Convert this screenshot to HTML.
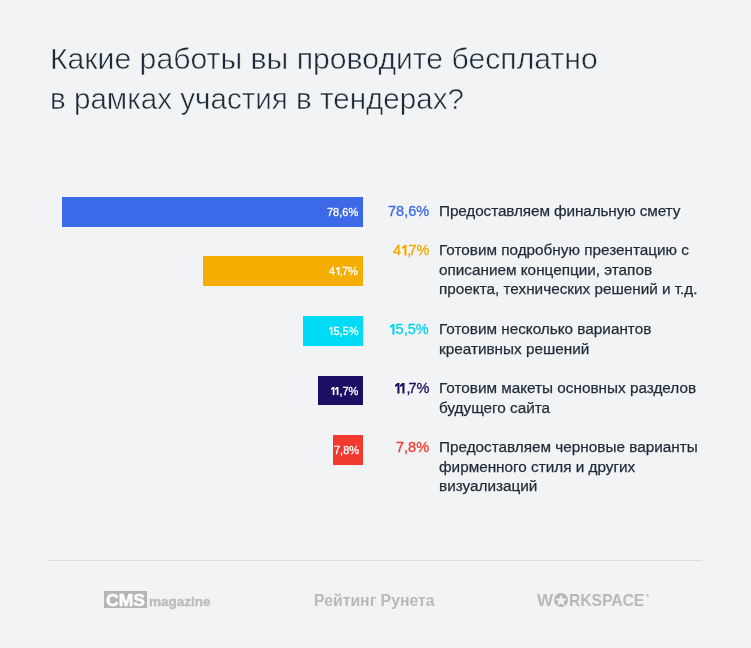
<!DOCTYPE html>
<html><head><meta charset="utf-8">
<style>
html,body{margin:0;padding:0;}
body{width:751px;height:648px;background:#f2f3f4;position:relative;overflow:hidden;font-family:"Liberation Sans",sans-serif;}
.t{position:absolute;white-space:nowrap;}
.t,.lab,.pct,.bl{will-change:transform;}
.title{color:#1d2a37;font-size:30px;line-height:40px;left:50px;-webkit-text-stroke:0.5px #f2f3f4;}
.bar{position:absolute;height:30px;}
.bl{position:absolute;right:5px;top:0;color:#fff;font-size:11px;line-height:30px;-webkit-text-stroke:0.3px #fff;}
.o1{display:inline-block;width:4.4px;height:10.5px;vertical-align:baseline;overflow:visible}
.o1s{display:inline-block;width:3.4px;height:8px;vertical-align:baseline;overflow:visible}
.pct{position:absolute;right:322px;font-size:14.5px;line-height:20px;font-weight:normal;-webkit-text-stroke:0.3px;text-align:right;}
.lab{position:absolute;left:439px;font-size:15.3px;line-height:19.7px;color:#1f2b38;white-space:nowrap;-webkit-text-stroke:0.25px #1f2b38;}
.hr{position:absolute;left:49px;top:560px;width:653px;height:1px;background:#dcdcdd;}
</style></head><body>
<div class="t title" style="top:39px;font-size:30.2px">Какие работы вы проводите бесплатно</div>
<div class="t title" style="top:78.5px;font-size:29.6px">в рамках участия в тендерах?</div>

<div class="bar" style="left:62px;top:197px;width:301px;background:#3c69e8"><span class="bl">78,6%</span></div>
<div class="bar" style="left:203px;top:256px;width:160px;background:#f5ad00"><span class="bl">4<span style="margin:0 0.8px 0 0.6px"><svg class="o1s" viewBox="0 0 4.4 10.5"><path fill="currentColor" d="M2.3 0H4.5V10.5H2.3V2.7L0 4.1V2Z"/></svg></span><span style="letter-spacing:-1px">,</span>7%</span></div>
<div class="bar" style="left:303px;top:316px;width:60px;background:#00dbf5"><span class="bl"><svg class="o1s" viewBox="0 0 4.4 10.5"><path fill="currentColor" d="M2.3 0H4.5V10.5H2.3V2.7L0 4.1V2Z"/></svg><span style="margin-left:1px"></span>5,5%</span></div>
<div class="bar" style="left:318px;top:376px;width:45px;height:29px;background:#1c0f63"><span class="bl"><svg class="o1s" viewBox="0 0 4.4 10.5"><path fill="currentColor" d="M2.3 0H4.5V10.5H2.3V2.7L0 4.1V2Z"/></svg><span style="margin:0 0.6px 0 1px"><svg class="o1s" viewBox="0 0 4.4 10.5"><path fill="currentColor" d="M2.3 0H4.5V10.5H2.3V2.7L0 4.1V2Z"/></svg></span>,7%</span></div>
<div class="bar" style="left:333px;top:435px;width:30px;background:#f33a2e"><span class="bl" style="right:auto;left:1px">7,8%</span></div>

<div class="pct" style="top:201px;color:#3c69e8">78,6%</div>
<div class="lab" style="top:201px;letter-spacing:-0.1px">Предоставляем финальную смету</div>

<div class="pct" style="top:240px;color:#f5a700">4<span style="margin:0 1.2px 0 0.6px"><svg class="o1" viewBox="0 0 4.4 10.5"><path fill="currentColor" d="M2.4 0H4.5V10.5H2.4V2.7L0 4.1V2Z"/></svg></span><span style="letter-spacing:-2.8px">,</span>7%</div>
<div class="lab" style="top:240px">Готовим подробную презентацию с<br>описанием концепции, этапов<br>проекта, технических решений и т.д.</div>

<div class="pct" style="top:319px;color:#00d5f3"><svg class="o1" viewBox="0 0 4.4 10.5"><path fill="currentColor" d="M2.4 0H4.5V10.5H2.4V2.7L0 4.1V2Z"/></svg><span style="margin-left:1.2px"></span>5,5%</div>
<div class="lab" style="top:319px">Готовим несколько вариантов<br>креативных решений</div>

<div class="pct" style="top:378px;color:#1c0f63"><svg class="o1" viewBox="0 0 4.4 10.5"><path fill="currentColor" d="M2.4 0H4.5V10.5H2.4V2.7L0 4.1V2Z"/></svg><span style="margin:0 2.1px 0 0.6px"><svg class="o1" viewBox="0 0 4.4 10.5"><path fill="currentColor" d="M2.4 0H4.5V10.5H2.4V2.7L0 4.1V2Z"/></svg></span><span style="letter-spacing:-2.1px">,</span>7%</div>
<div class="lab" style="top:378px">Готовим макеты основных разделов<br>будущего сайта</div>

<div class="pct" style="top:437px;color:#f33a2e">7,8%</div>
<div class="lab" style="top:437px">Предоставляем черновые варианты<br>фирменного стиля и других<br>визуализаций</div>

<div class="hr"></div>

<div style="position:absolute;left:104px;top:591px;width:43px;height:17px;background:#b5b5b5"></div>
<div class="t" style="left:106px;top:589px;font-size:16.5px;line-height:22px;font-weight:bold;color:#fff;-webkit-text-stroke:0.5px #fff;transform:scaleX(1.06);transform-origin:0 0">CMS</div>
<div class="t" style="left:149px;top:592.5px;font-size:13.5px;line-height:18px;font-weight:bold;color:#bdbdbd;-webkit-text-stroke:0.4px #bdbdbd">magazine</div>

<div class="t" style="left:313.8px;top:590.5px;font-size:15.8px;line-height:20px;font-weight:bold;color:#b9b9b9">Рейтинг Рунета</div>

<div class="t" style="left:537px;top:590px;font-size:17px;line-height:22px;font-weight:bold;color:#b8b8b8">W</div>
<svg style="position:absolute;left:554px;top:593.2px" width="14" height="14" viewBox="0 0 14 14"><path fill="#b8b8b8" fill-rule="evenodd" d="M7 0A7 7 0 1 1 7 14A7 7 0 1 1 7 0Z M7.00 1.50 L8.59 5.52 L12.90 5.78 L9.57 8.53 L10.64 12.72 L7.00 10.40 L3.36 12.72 L4.43 8.53 L1.10 5.78 L5.41 5.52Z"/></svg>
<div class="t" style="left:569px;top:590px;font-size:17px;line-height:22px;font-weight:bold;color:#b8b8b8;transform:scaleX(0.92);transform-origin:0 0">RKSPACE</div>
<div style="position:absolute;left:646.4px;top:594px;width:2.5px;height:2.5px;border-radius:50%;background:#cfcfcf"></div>
</body></html>
